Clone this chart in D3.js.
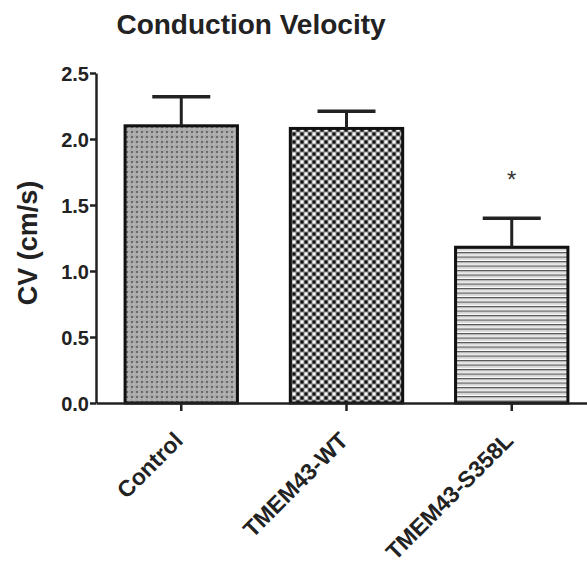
<!DOCTYPE html>
<html>
<head>
<meta charset="utf-8">
<script src="https://cdn.jsdelivr.net/npm/d3@7"></script>
<style>
body { margin: 0; background: #fff; }
svg { display: block; font-family: "Liberation Sans", Arial, Helvetica, sans-serif; }
</style>
</head>
<body>
<svg id="chart" width="587" height="570"></svg>
<script>
// values
var groups = ["Control", "TMEM43-WT", "TMEM43-S358L"];
var means = [2.10, 2.08, 1.18];
var errs = [0.22, 0.13, 0.22];
var stars = ["", "", "*"];
var yTicks = [0.0, 0.5, 1.0, 1.5, 2.0, 2.5];
var fills = ["url(#dots)", "url(#checks)", "url(#lines)"];

var svg = d3.select("#chart");
var plotLeft = 96, plotTop = 73, plotBottom = 403, plotRight = 597;

var x = d3.scaleBand().domain(groups).range([plotLeft, plotRight]).paddingInner(0.32).paddingOuter(0.176);
var y = d3.scaleLinear().domain([0, 2.5]).range([plotBottom, plotTop]);

// fill patterns
var defs = svg.append("defs");
var p1 = defs.append("pattern").attr("id", "dots").attr("patternUnits", "userSpaceOnUse")
  .attr("width", 5).attr("height", 5);
p1.append("rect").attr("width", 5).attr("height", 5).attr("fill", "#a9a9a9");
p1.append("rect").attr("x", 1).attr("y", 1).attr("width", 2).attr("height", 2).attr("fill", "#6a6a6a");
p1.append("rect").attr("x", 3.5).attr("y", 3.5).attr("width", 1).attr("height", 1).attr("fill", "#dedede");

var p2 = defs.append("pattern").attr("id", "checks").attr("patternUnits", "userSpaceOnUse")
  .attr("width", 8).attr("height", 8);
p2.append("rect").attr("width", 8).attr("height", 8).attr("fill", "#8a8a8a");
p2.append("rect").attr("x", 0.5).attr("y", 0.5).attr("width", 3).attr("height", 3).attr("fill", "#111");
p2.append("rect").attr("x", 4.5).attr("y", 4.5).attr("width", 3).attr("height", 3).attr("fill", "#111");
p2.append("rect").attr("x", 4.5).attr("y", 0.5).attr("width", 3).attr("height", 3).attr("fill", "#fafafa");
p2.append("rect").attr("x", 0.5).attr("y", 4.5).attr("width", 3).attr("height", 3).attr("fill", "#fafafa");

var p3 = defs.append("pattern").attr("id", "lines").attr("patternUnits", "userSpaceOnUse")
  .attr("width", 8).attr("height", 4.5);
p3.append("rect").attr("width", 8).attr("height", 4.5).attr("fill", "#fbfbfb");
p3.append("rect").attr("y", 0).attr("width", 8).attr("height", 1.3).attr("fill", "#555");
p3.append("rect").attr("y", 2.3).attr("width", 8).attr("height", 0.9).attr("fill", "#c4c4c4");

// title
svg.append("text").attr("x", 251).attr("y", 34).attr("text-anchor", "middle")
  .attr("font-size", 28).attr("font-weight", "bold").attr("fill", "#222")
  .text("Conduction Velocity");

// y label
svg.append("text").attr("transform", "translate(37,243) rotate(-90)")
  .attr("text-anchor", "middle").attr("font-size", 27).attr("font-weight", "bold").attr("fill", "#222")
  .text("CV (cm/s)");

// bars
svg.selectAll(".bar").data(groups).join("rect")
  .attr("class", "bar")
  .attr("x", d => x(d))
  .attr("y", (d, i) => y(means[i]))
  .attr("width", x.bandwidth())
  .attr("height", (d, i) => y(0) - y(means[i]))
  .attr("fill", (d, i) => fills[i])
  .attr("stroke", "#111").attr("stroke-width", 3);

// error bars (upper only)
var capW = 58;
groups.forEach(function (g, i) {
  var cx = x(g) + x.bandwidth() / 2;
  svg.append("line").attr("x1", cx).attr("x2", cx)
    .attr("y1", y(means[i])).attr("y2", y(means[i] + errs[i]))
    .attr("stroke", "#222").attr("stroke-width", 3);
  svg.append("line").attr("x1", cx - capW / 2).attr("x2", cx + capW / 2)
    .attr("y1", y(means[i] + errs[i])).attr("y2", y(means[i] + errs[i]))
    .attr("stroke", "#222").attr("stroke-width", 3.5);
  if (stars[i]) {
    svg.append("text").attr("x", cx).attr("y", y(means[i] + errs[i]) - 30)
      .attr("text-anchor", "middle").attr("font-size", 24).attr("fill", "#333")
      .text(stars[i]);
  }
});

// y axis
var yAxis = svg.append("g").attr("transform", "translate(" + plotLeft + ",0)")
  .call(d3.axisLeft(y).tickValues(yTicks).tickFormat(d3.format(".1f")).tickSize(6).tickSizeOuter(0));
yAxis.select(".domain").attr("stroke", "#222").attr("stroke-width", 2.5);
yAxis.selectAll(".tick line").attr("stroke", "#222").attr("stroke-width", 2.5);
yAxis.selectAll(".tick text").attr("font-size", 20).attr("font-weight", "bold")
  .attr("font-family", "Liberation Sans, Arial, sans-serif").attr("fill", "#222").attr("x", -7).attr("dy", "0.36em");

// x axis
var xAxis = svg.append("g").attr("transform", "translate(0," + plotBottom + ")")
  .call(d3.axisBottom(x).tickSize(8).tickSizeOuter(0));
xAxis.select(".domain").attr("stroke", "#222").attr("stroke-width", 2.5);
xAxis.selectAll(".tick line").attr("stroke", "#222").attr("stroke-width", 2.5);
xAxis.selectAll(".tick text")
  .attr("font-size", 23).attr("font-weight", "bold")
  .attr("font-family", "Liberation Sans, Arial, sans-serif").attr("fill", "#222")
  .attr("text-anchor", "end")
  .attr("dy", null).attr("y", 0)
  .attr("transform", "translate(3,39) rotate(-45)");
</script>
</body>
</html>
